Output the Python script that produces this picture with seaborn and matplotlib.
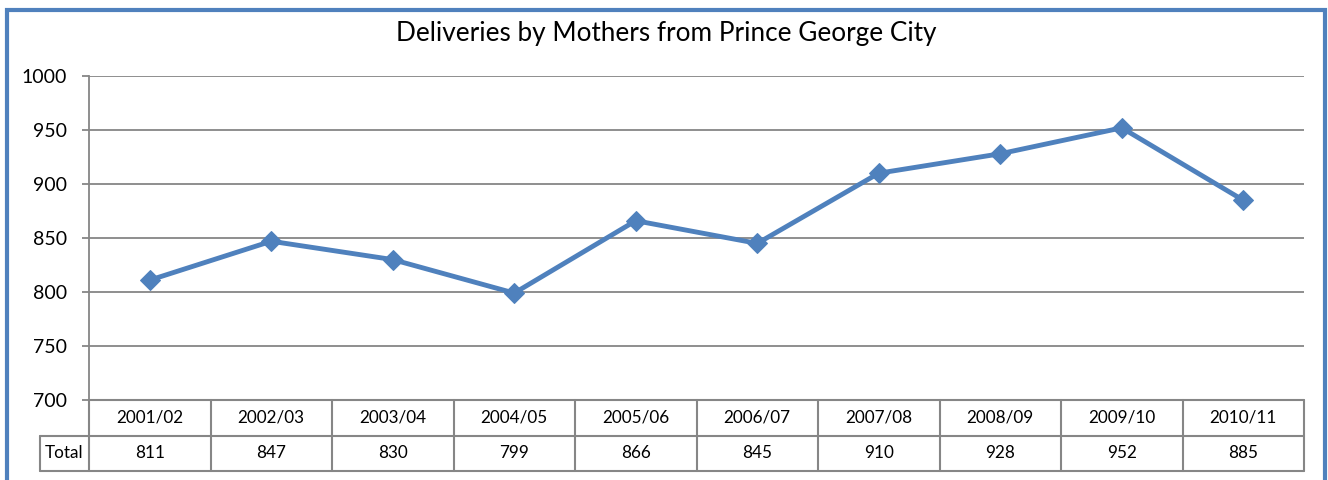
import matplotlib
matplotlib.use("Agg")
import matplotlib.pyplot as plt
import seaborn as sns
import pandas as pd
from matplotlib.patches import Rectangle

# data
years = ["2001/02", "2002/03", "2003/04", "2004/05", "2005/06",
         "2006/07", "2007/08", "2008/09", "2009/10", "2010/11"]
totals = [811, 847, 830, 799, 866, 845, 910, 928, 952, 885]
yticks = [700, 750, 800, 850, 900, 950, 1000]

sns.set_style("white")
plt.rcParams['font.family'] = ['Lato', 'DejaVu Sans']
plt.rcParams['text.color'] = 'black'
plt.rcParams['ytick.color'] = 'black'
plt.rcParams['ytick.labelcolor'] = 'black'

blue = "#4F81BD"
grey = "#868686"

df = pd.DataFrame({"pos": range(len(years)), "total": totals})

fig = plt.figure(figsize=(13.28, 4.8), dpi=100)
ax = fig.add_axes([89 / 1328, 80 / 480, 1215 / 1328, 324 / 480])

sns.lineplot(data=df, x="pos", y="total", ax=ax, color=blue, linewidth=3.5,
             marker="D", markersize=10, markeredgecolor=blue, zorder=5)

ax.set_xlim(-0.5, len(years) - 0.5)
ax.set_ylim(700, 1000)
ax.set_yticks(yticks)
ax.set_yticklabels([str(v) for v in yticks], fontsize=14, color="black")
ax.set_xticks([])
ax.set_xlabel("")
ax.set_ylabel("")
ax.grid(axis="y", color=grey, linewidth=1.3)
ax.tick_params(axis="y", length=5, width=1.3, color=grey, pad=11, left=True)
for s in ["top", "right", "bottom"]:
    ax.spines[s].set_visible(False)
ax.spines["left"].set_color(grey)
ax.spines["left"].set_linewidth(1.3)

# data table under the axis
tr = ax.get_xaxis_transform()
row_h = 35.5 / 324
line_kw = dict(color=grey, linewidth=1.5, transform=tr, clip_on=False)
n = len(years)
for b in range(n + 1):
    ax.plot([b - 0.5, b - 0.5], [0, -2 * row_h], **line_kw)
ax.plot([-0.5, n - 0.5], [0, 0], **line_kw)
label_w = 49 / 121.5
ax.plot([-0.5 - label_w, n - 0.5], [-row_h, -row_h], **line_kw)
ax.plot([-0.5 - label_w, n - 0.5], [-2 * row_h, -2 * row_h], **line_kw)
ax.plot([-0.5 - label_w, -0.5 - label_w], [-row_h, -2 * row_h], **line_kw)
for i, (yr, t) in enumerate(zip(years, totals)):
    ax.text(i, -row_h / 2, yr, transform=tr, ha="center", va="center",
            fontsize=12.3, color="black")
    ax.text(i, -1.5 * row_h, str(t), transform=tr, ha="center", va="center",
            fontsize=12.3, color="black")
ax.text(-0.5 - label_w / 2, -1.5 * row_h, "Total", transform=tr,
        ha="center", va="center", fontsize=12.3, color="black")

fig.text(666 / 1328, 1 - 34 / 480, "Deliveries by Mothers from Prince George City",
         ha="center", va="center", fontsize=18.8, color="black")

# outer chart border
fig.patches.append(Rectangle((7 / 1328, -0.1), (1318) / 1328, 1.1 - 10 / 480,
                             transform=fig.transFigure, fill=False,
                             edgecolor=blue, linewidth=3))

fig.savefig("out.png", dpi=100)
plt.close("all")
